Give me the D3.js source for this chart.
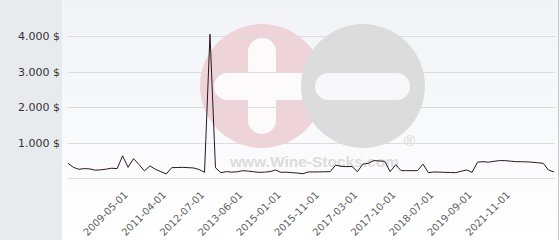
<!DOCTYPE html>
<html>
<head>
<meta charset="utf-8">
<script src="https://cdn.jsdelivr.net/npm/d3@7/dist/d3.min.js"></script>
<style>
  body { margin: 0; background: #fff; }
  svg { display: block; }
</style>
</head>
<body>
<svg id="chart"></svg>
<script>
// price per point
const prices = [
  415, 300, 245, 265, 255, 220, 230, 250, 275, 265,
  625, 300, 545, 380, 200, 340, 245, 180, 113, 292,
  295, 300, 292, 283, 240, 160, 4050, 290, 150, 180,
  165, 175, 205, 195, 175, 160, 165, 180, 225, 160,
  165, 150, 140, 120, 170, 170, 172, 175, 180, 360,
  330, 320, 325, 180, 390, 415, 490, 480, 470, 180,
  375, 207, 207, 207, 207, 390, 150, 170, 165, 160,
  155, 150, 190, 225, 160, 445, 460, 445, 470, 490,
  490, 475, 460, 458, 455, 445, 430, 415, 225, 170
]
const tickLabels = ['2009-05-01', '2011-04-01', '2012-07-01', '2013-06-01', '2015-01-01',
  '2015-11-01', '2017-03-01', '2017-10-01', '2018-07-01', '2019-09-01', '2021-11-01']
const tickIndex = [10, 17, 24, 31, 38, 45, 52, 59, 66, 73, 80]
const yTicks = [0, 1000, 2000, 3000, 4000]

const width = 560
const height = 240
const panelW = 62

const svg = d3.select('#chart')
  .attr('width', width)
  .attr('height', height)

const defs = svg.append('defs')
const grad = defs.append('linearGradient')
  .attr('id', 'bg')
  .attr('x1', 0).attr('y1', 0).attr('x2', 0).attr('y2', 1)
grad.append('stop').attr('offset', '0%').attr('stop-color', '#f2f3f7')
grad.append('stop').attr('offset', '100%').attr('stop-color', '#ffffff')

svg.append('rect')
  .attr('x', 0).attr('y', 0)
  .attr('width', panelW).attr('height', height)
  .attr('fill', '#e7ebee')
svg.append('rect')
  .attr('x', panelW).attr('y', 0)
  .attr('width', width - panelW).attr('height', height)
  .attr('fill', 'url(#bg)')
svg.append('line')
  .attr('x1', width - 1.5).attr('x2', width - 1.5)
  .attr('y1', 0).attr('y2', height)
  .attr('stroke', '#c8c8c8')

// watermark
const wm = svg.append('g').classed('watermark', true)
wm.append('circle')
  .attr('cx', 262).attr('cy', 86).attr('r', 62)
  .attr('fill', '#eed3d9')
wm.append('rect')
  .attr('x', 248).attr('y', 38).attr('width', 28).attr('height', 96).attr('rx', 14)
  .attr('fill', '#fcfafb')
wm.append('rect')
  .attr('x', 214).attr('y', 73).attr('width', 100).attr('height', 27).attr('rx', 13.5)
  .attr('fill', '#fcfafb')
wm.append('circle')
  .attr('cx', 363).attr('cy', 86).attr('r', 62)
  .attr('fill', '#dcdcdd')
wm.append('rect')
  .attr('x', 315).attr('y', 73).attr('width', 95).attr('height', 27).attr('rx', 13.5)
  .attr('fill', '#f8f8fa')
wm.append('text')
  .attr('x', 230).attr('y', 167)
  .attr('font-family', 'Liberation Sans, Arial, sans-serif')
  .attr('font-weight', 'bold')
  .attr('font-size', 15.5)
  .attr('fill', '#dcdcdc')
  .text('www.Wine-Stocks.com')
wm.append('text')
  .attr('x', 404).attr('y', 146)
  .attr('font-family', 'Liberation Sans, Arial, sans-serif')
  .attr('font-size', 15)
  .attr('fill', '#d6d6d6')
  .text('®')

const x = d3.scalePoint()
  .domain(d3.range(prices.length))
  .range([68, 554])
const y = d3.scaleLinear()
  .domain([0, 4000])
  .range([178, 36])

const locale = d3.formatLocale({ decimal: ',', thousands: '.', grouping: [3], currency: ['', ' $'] })
const fmt = locale.format(',')

const grid = svg.append('g').classed('grid', true)
grid.selectAll('line')
  .data(yTicks)
  .enter()
  .append('line')
  .attr('x1', 68).attr('x2', 555)
  .attr('y1', (d) => Math.round(y(d)) + 0.5)
  .attr('y2', (d) => Math.round(y(d)) + 0.5)
  .attr('stroke', '#dcdcdc')

const yAxis = d3.axisLeft(y)
  .tickValues(yTicks.filter((d) => d > 0))
  .tickFormat((d) => fmt(d) + ' $')
  .tickSize(0)
  .tickPadding(0)
svg.append('g')
  .classed('y-axis', true)
  .attr('transform', 'translate(60,0)')
  .call(yAxis)
  .call((g) => g.select('.domain').remove())
  .selectAll('text')
  .attr('font-family', 'DejaVu Sans, Verdana, sans-serif')
  .attr('font-size', 11)
  .attr('fill', '#333')

const xAxis = d3.axisBottom(x)
  .tickValues(tickIndex)
  .tickFormat((d) => tickLabels[tickIndex.indexOf(d)])
  .tickSize(0)
svg.append('g')
  .classed('x-axis', true)
  .call(xAxis)
  .call((g) => g.select('.domain').remove())
  .selectAll('.tick text')
  .attr('font-family', 'DejaVu Sans, Verdana, sans-serif')
  .attr('font-size', 10)
  .attr('fill', '#606060')
  .attr('text-anchor', 'end')
  .attr('dy', '0.35em')
  .attr('y', 0)
  .attr('transform', 'translate(3,193) rotate(-45)')

const line = d3.line()
  .x((d, i) => x(i))
  .y((d) => y(d))
svg.append('path')
  .datum(prices)
  .attr('d', line)
  .attr('fill', 'none')
  .attr('stroke', '#2a1620')
  .attr('stroke-width', 1)
</script>
</body>
</html>
